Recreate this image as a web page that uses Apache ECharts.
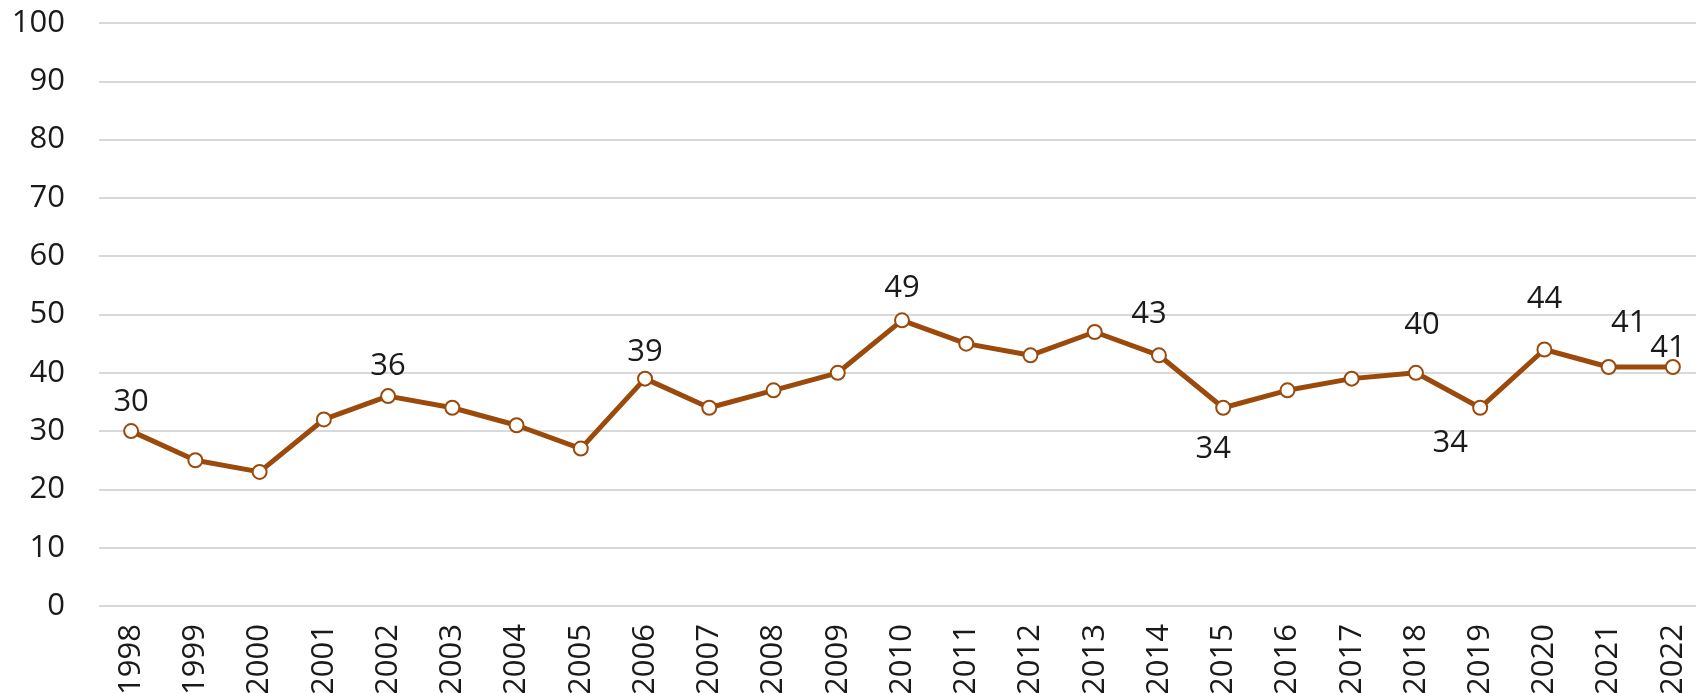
<!DOCTYPE html>
<html>
<head>
<meta charset="utf-8">
<script src="https://cdn.jsdelivr.net/npm/echarts@6/dist/echarts.min.js"></script>
<style>
html,body{margin:0;padding:0;background:#fff;}
#chart{width:1696px;height:693px;}
</style>
</head>
<body>
<div id="chart"></div>
<script>
const years = ['1998','1999','2000','2001','2002','2003','2004','2005','2006','2007','2008','2009','2010','2011','2012','2013','2014','2015','2016','2017','2018','2019','2020','2021','2022'];
const values = [30,25,23,32,36,34,31,27,39,34,37,40,49,45,43,47,43,34,37,39,40,34,44,41,41];
const yTicks = [0,10,20,30,40,50,60,70,80,90,100];
const labelledYears = ['1998','2002','2006','2010','2014','2015','2018','2019','2020','2021','2022'];

// label placement (style only, offsets in px from point centre)
const labelOffsets = {
  '1998':[0,-29], '2002':[0,-30], '2006':[0,-26], '2010':[0,-32],
  '2014':[-10,-41], '2015':[-10,41], '2018':[6,-48], '2019':[-30,35],
  '2020':[0,-50], '2021':[20,-44], '2022':[-5,-19]
};

const FONT = '"Open Sans", "Noto Sans", sans-serif';
const brown = '#9B4A0B';
const textColor = '#1a1a1a';

const seriesData = values.map((v, i) => {
  const y = years[i];
  if (labelledYears.includes(y)) {
    return {
      value: v,
      label: {
        show: true, position: 'inside', offset: labelOffsets[y],
        formatter: '{c}', fontSize: 31, color: textColor, fontFamily: FONT
      }
    };
  }
  return { value: v };
});

const chart = echarts.init(document.getElementById('chart'));
chart.setOption({
  animation: false,
  grid: { left: 99, top: 23, width: 1606, height: 583, containLabel: false, outerBoundsMode: 'none' },
  xAxis: {
    type: 'category',
    data: years,
    boundaryGap: true,
    axisLine: { show: false },
    axisTick: { show: false },
    axisLabel: { rotate: 90, margin: 18, fontSize: 31, color: textColor, fontFamily: FONT, interval: 0 }
  },
  yAxis: {
    type: 'value',
    min: yTicks[0], max: yTicks[yTicks.length - 1], interval: 10,
    axisLine: { show: false },
    axisTick: { show: false },
    axisLabel: { margin: 34, fontSize: 31, color: textColor, fontFamily: FONT },
    splitLine: { lineStyle: { color: '#d9d9d9', width: 2 } }
  },
  series: [{
    type: 'line',
    data: seriesData,
    symbol: 'circle',
    symbolSize: 14,
    lineStyle: { color: brown, width: 5 },
    itemStyle: { color: '#fff', borderColor: brown, borderWidth: 2 },
    label: { show: false }
  }]
});
</script>
</body>
</html>
